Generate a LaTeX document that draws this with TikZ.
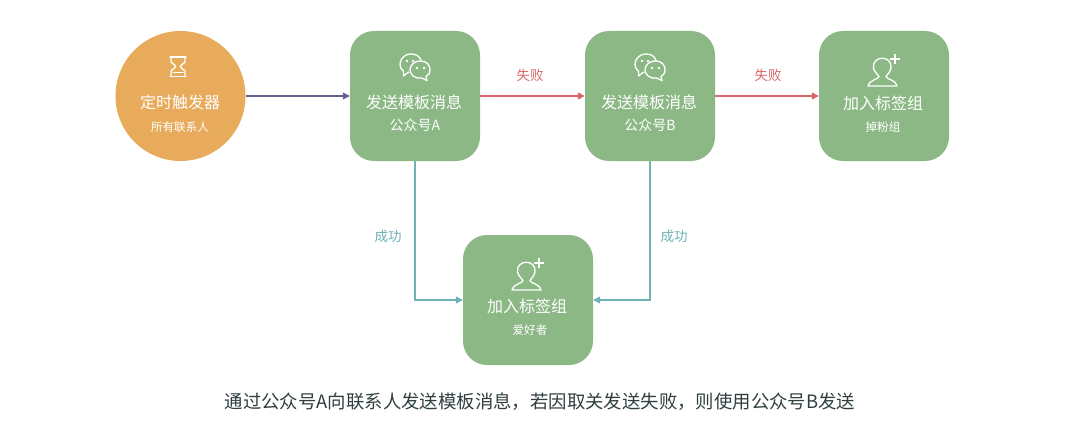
\documentclass[tikz,border=0pt]{standalone}
\usepackage{fontspec}
\setmainfont{Noto Sans CJK SC}
\usetikzlibrary{arrows.meta}
\definecolor{boxgreen}{HTML}{8CB886}
\definecolor{dotorange}{HTML}{E8AB5C}
\definecolor{linepurple}{HTML}{62628C}
\definecolor{linered}{HTML}{D9686A}
\definecolor{lineteal}{HTML}{6DB3B5}
\definecolor{captiondark}{HTML}{2F3F3F}
\newcommand{\fs}[1]{\fontsize{#1}{#1}\selectfont}
\tikzset{
  x=1pt,y=-1pt,
  greenbox/.style={draw=none,fill=boxgreen,rounded corners=24pt,minimum width=130pt,minimum height=130pt,inner sep=0pt},
  timer/.style={circle,draw=none,fill=dotorange,minimum size=130pt,inner sep=0pt},
  maintext/.style={text=white,font=\fs{16}},
  subtext/.style={text=white,font=\fs{11.6}},
  conn/.style={line width=1.2pt,-{Triangle[length=7pt,width=7pt]}},
  edgelabel/.style={font=\fs{13.5}},
  iconline/.style={draw=white,line width=1.3pt,line join=round,line cap=round},
  wechat/.pic={
    \draw[iconline] (-6,-24) .. controls (-8,-23) and (-9,-22) .. (-11.5,-20)
      .. controls (-11.5,-22) and (-11.5,-23) .. (-11.5,-25)
      .. controls (-18,-29) and (-15,-41) .. (-5,-42)
      .. controls (1,-42.5) and (5,-39.5) .. (6,-35.5);
    \draw[iconline] (6,-35) .. controls (11,-35) and (15.5,-31) .. (15,-26)
      .. controls (15,-22.5) and (13,-20.5) .. (11,-19.5)
      .. controls (11,-18) and (11,-17) .. (12,-15.5)
      .. controls (9.5,-16.5) and (8,-17.5) .. (6.5,-18)
      .. controls (0,-17) and (-5,-21) .. (-5,-26.5)
      .. controls (-5,-31) and (0,-35.5) .. (6,-35);
    \fill[white] (-8,-35) circle (1.3pt) (-2,-35) circle (1.3pt) (2,-28) circle (1.3pt) (9,-28) circle (1.3pt);
  },
  useradd/.pic={
    \draw[iconline] (-5,-19.5) .. controls (-7,-22) and (-10,-25) .. (-10.5,-28)
      .. controls (-12,-41) and (8.5,-41) .. (7,-28)
      .. controls (6.5,-25) and (4,-22) .. (2,-19.5)
      .. controls (2,-16.5) and (11,-17) .. (13,-10)
      -- (-16,-10)
      .. controls (-14,-17) and (-5,-16.5) .. (-5,-19.5) -- cycle;
    \draw[white,line width=1.8pt] (6,-37) -- (16,-37) (11,-42) -- (11,-32);
  },
  hourglass/.pic={
    \draw[iconline] (-8,-39) -- (8,-39) (-8,-19.5) -- (8,-19.5);
    \draw[iconline] (-7,-39) -- (-7,-34) -- (-2.5,-30) -- (-2.5,-29) -- (-7,-25) -- (-7,-19.5);
    \draw[iconline] (7,-39) -- (7,-34) -- (2.5,-30) -- (2.5,-29) -- (7,-25) -- (7,-19.5);
    \draw[iconline] (-5,-23.5) -- (5,-23.5);
  },
}
\begin{document}
\begin{tikzpicture}
\useasboundingbox (0,0) rectangle (1080,444);
\node[timer] (start) at (180.5,96) {};
\node[greenbox] (a) at (415,96) {};
\node[greenbox] (b) at (650,96) {};
\node[greenbox] (c) at (884,96) {};
\node[greenbox] (d) at (528,300) {};

\pic at (178,96) {hourglass};
\pic at (415,96) {wechat};
\pic at (650,96) {wechat};
\pic at (884,96) {useradd};
\pic at (528,300) {useradd};

\node[maintext] (t0) at (180,102) {定时触发器};
\node[subtext] (s0) at (180,127) {所有联系人};
\node[maintext] (t1) at (414,102) {发送模板消息};
\node[subtext,font=\fs{14}] (s1) at (415,125) {公众号A};
\node[maintext] (t2) at (649,102) {发送模板消息};
\node[subtext,font=\fs{14}] (s2) at (650,125) {公众号B};
\node[maintext] (t3) at (883,103) {加入标签组};
\node[subtext] (s3) at (883,127) {掉粉组};
\node[maintext] (t4) at (527,306) {加入标签组};
\node[subtext] (s4) at (530,330) {爱好者};

\draw[conn,linepurple] (start) -- (a);
\draw[conn,linered] (a) -- (b);
\draw[conn,linered] (b) -- (c);
\draw[conn,lineteal] (a.south) |- (d.west);
\draw[conn,lineteal] (b.south) |- (d.east);

\node[edgelabel,text=linered] (l1) at (530,75) {失败};
\node[edgelabel,text=linered] (l2) at (768,75) {失败};
\node[edgelabel,text=lineteal] (l3) at (388,236) {成功};
\node[edgelabel,text=lineteal] (l4) at (674,236) {成功};

\node[text=captiondark,font=\fs{18.4}] (cap) at (540,402) {通过公众号A向联系人发送模板消息，若因取关发送失败，则使用公众号B发送};
\end{tikzpicture}
\end{document}
